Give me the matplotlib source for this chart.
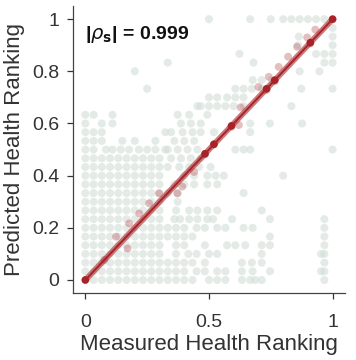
import numpy as np
import matplotlib
matplotlib.use("Agg")
import matplotlib.pyplot as plt

plt.rcParams['font.family'] = ['Liberation Sans', 'DejaVu Sans']

# rank grid: 30 steps from 0 to 1
n_steps = 30

# grey points: predicted rank level -> measured rank levels (in grid steps)
gray_rows = {
    0: [1, 2, 3, 4, 5, 6, 7, 8, 9, 10, 11, 12, 13, 15, 16, 17, 19, 20, 20.6, 21.4, 29],
    1: [0, 1, 2, 3, 4, 5, 6, 7, 8, 9, 10, 11, 12, 13.5, 14.5, 16, 17, 19, 20.3, 22.4, 28.6, 29],
    2: [0, 1, 2, 3, 4, 5, 6, 7, 8, 9, 10, 11, 12, 13, 14.5, 19, 20.2, 21.4, 29],
    3: [0, 1, 2, 3, 4, 5, 6, 7, 8, 9, 11, 12.5, 13.5, 15, 16, 21.4, 28.6, 29],
    4: [0, 1, 2, 3, 4, 5, 6, 7, 8, 9, 11, 12, 14.5, 17.2, 18.2, 19.4, 21.4, 22.4, 29],
    5: [0, 1, 2, 3, 4, 5, 6, 7, 8, 9, 10, 11, 12, 13, 22.4, 29],
    6: [0, 1, 2, 3, 4, 5, 6, 7, 8, 9, 10, 11, 12, 13.5, 14.5, 16, 17, 19.2, 20.3, 29],
    7: [0, 1, 2, 3, 4, 5, 6, 7, 8, 9, 10.8, 11.5, 12.6, 13.6, 14.8, 15.5, 17.8, 22.4, 29],
    8: [0, 1, 2, 3, 4, 5, 6, 7, 8, 9, 11, 12.6, 13.6, 14.8, 16, 21.4],
    9: [0, 1, 2, 3, 4, 5, 6, 7, 8, 9, 11.2],
    10: [0, 1, 2, 3, 4, 5, 6, 7, 8, 9, 10, 11.2, 19.2],
    11: [0, 1, 2, 3, 4, 5, 6, 7, 8, 9, 10.8, 12, 13.2, 14.8, 16],
    12: [0, 1, 2, 3, 4, 5, 6, 7, 8, 9, 12, 13.2, 14.8, 15.8, 16.8, 24],
    13: [0, 1, 2, 3, 4, 5, 6, 7, 8, 9, 10, 11.4, 12.6, 13.8, 15.2],
    14: [0, 1, 2, 3, 4, 5, 6, 7, 8, 9, 10.4, 11.6, 12.8, 14],
    15: [0, 1, 2.5, 3.3, 4.3, 5.3, 6.5, 7.5, 8.5, 9.7, 10, 11.2, 12.4, 13.6, 18.2, 19.2, 20, 30],
    16: [0, 1, 2, 4.5, 6, 8.5, 10.8, 12, 13.2],
    17: [0, 1, 2, 9.7, 10.4, 11.8, 13, 14, 15.6, 20],
    18: [0, 2, 3.3, 11.6, 12.8, 14, 20, 22.4, 26.3],
    19: [0, 1, 3.3, 11.2, 12.6, 14.8],
    20: [13.6, 14, 15, 16, 17, 18, 19.2, 25],
    21: [15, 16, 17.2, 18.2, 19.2],
    22: [7.5, 18.2, 19.2, 20.2, 21.4, 26.2, 30],
    23: [20.3, 21.4, 22.6],
    24: [6, 26, 28.4],
    25: [10, 20.4, 29, 30],
    26: [18.7, 28, 29, 30],
    27: [25.8, 30],
    28: [25.9, 30],
    29: [30],
    30: [15, 20, 22.5, 24, 25, 26, 27, 28, 29],
}

# highlighted model: measured vs predicted rank
red_x = [0.0, 0.077, 0.124, 0.171, 0.177, 0.218, 0.258, 0.298, 0.372, 0.392, 0.44, 0.484,
         0.52, 0.591, 0.621, 0.628, 0.70, 0.733, 0.742, 0.766, 0.782, 0.82, 0.856, 0.897,
         0.91, 0.93, 1.0]
red_y = [0.0, 0.077, 0.166, 0.121, 0.217, 0.255, 0.294, 0.332, 0.332, 0.358, 0.414, 0.481,
         0.521, 0.587, 0.594, 0.662, 0.74, 0.728, 0.779, 0.762, 0.817, 0.856, 0.894, 0.93,
         0.907, 0.96, 1.0]
red_on_line = [0.0, 0.484, 0.52, 0.591, 0.733, 0.766, 0.91, 1.0]

rho_s = 0.999

gx, gy = [], []
for j, cols in gray_rows.items():
    for i in cols:
        gx.append(i / n_steps)
        gy.append(j / n_steps)

red_col = '#a82328'
fig = plt.figure(figsize=(3.56, 3.6), dpi=100)
ax = fig.add_axes([0.205, 0.186, 0.764, 0.797])

ax.scatter(gx, gy, s=34, color='#d3dfd8', alpha=0.6, edgecolors='none', zorder=1)
ax.scatter(red_x, red_y, s=32, color='#b5474c', alpha=0.35, edgecolors='none', zorder=2)
ax.plot([0, 1], [0, 1], color=red_col, lw=4.2, alpha=0.6, solid_capstyle='round', zorder=3)
ax.plot([0, 1], [0, 1], color=red_col, lw=1.4, zorder=4)
ax.scatter(red_on_line, red_on_line, s=30, color=red_col, edgecolors='none', zorder=5)

ax.text(0.0, 0.94, r'|$\rho_{\mathbf{s}}$| = %.3f' % rho_s, fontsize=14,
        fontweight='bold', va='center', ha='left', color='#111111')

ax.set_xlim(-0.05, 1.05)
ax.set_ylim(-0.05, 1.05)
ax.set_xticks([0, 0.5, 1])
ax.set_xticklabels(['0', '0.5', '1'])
ax.set_yticks([0, 0.2, 0.4, 0.6, 0.8, 1])
ax.set_yticklabels(['0', '0.2', '0.4', '0.6', '0.8', '1'])
ax.tick_params(labelsize=14, colors='#333333', length=4, width=0.9, pad=6)
ax.tick_params(axis='x', pad=11)
for side in ['top', 'right']:
    ax.spines[side].set_visible(False)
for side in ['left', 'bottom']:
    ax.spines[side].set_color('#444444')
    ax.spines[side].set_linewidth(0.9)

ax.set_xlabel('Measured Health Ranking', fontsize=16, color='#333333', labelpad=2)
ax.set_ylabel('Predicted Health Ranking', fontsize=16, color='#333333', labelpad=5)

fig.savefig('out.png', dpi=100)
